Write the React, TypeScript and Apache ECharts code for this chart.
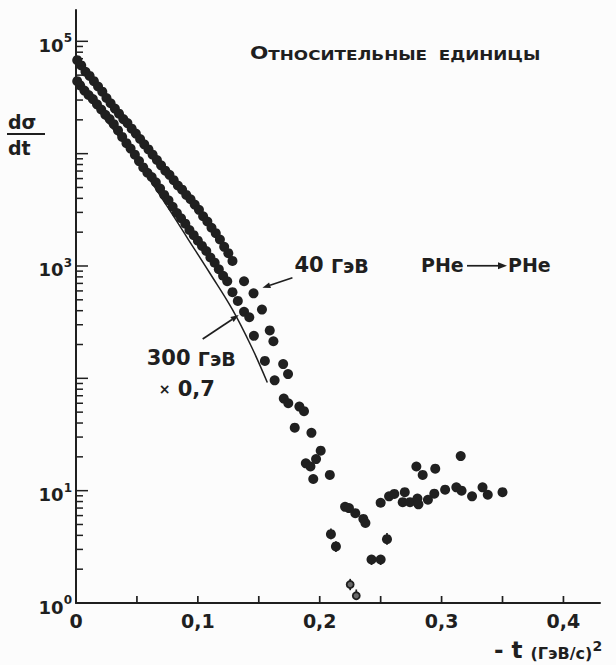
import React, { useEffect, useRef } from "react";
import * as echarts from "echarts";

const FONT = "DejaVu Sans";
const INK = "#1f1f1f";

// 40 GeV, pHe elastic: -t in (GeV/c)^2, dσ/dt in relative units
const t40 = [
  0.001, 0.0043, 0.0078, 0.0112, 0.0147, 0.0181, 0.0216, 0.025, 0.0284, 0.0319,
  0.0353, 0.0388, 0.0422, 0.0457, 0.0491, 0.0526, 0.056, 0.0595, 0.0629, 0.0664,
  0.0698, 0.0733, 0.0767, 0.0802, 0.0836, 0.0871, 0.0905, 0.094, 0.0974, 0.1009,
  0.1043, 0.1078, 0.1112, 0.1147, 0.1181, 0.1216, 0.125, 0.1284, 0.1379, 0.1457,
  0.1526, 0.159, 0.162, 0.17, 0.174, 0.1742, 0.1833, 0.1871, 0.1932, 0.2008,
  0.197, 0.2083, 0.2208, 0.224, 0.2292, 0.2358, 0.2375, 0.2425, 0.25, 0.2552,
  0.25, 0.2569, 0.2612, 0.2698, 0.2681, 0.2741, 0.2802, 0.281, 0.2888, 0.294,
  0.3029, 0.3121, 0.3164, 0.325, 0.3336, 0.3379, 0.35, 0.2793, 0.2845, 0.2948,
  0.3157,
];
const v40 = [
  67900, 61000, 53600, 49200, 44200, 39600, 35600, 31300, 28100, 25200,
  22700, 20300, 18700, 16700, 15100, 13500, 12100, 10900, 9790, 8780,
  7870, 7060, 6480, 5810, 5210, 4780, 4290, 3930, 3520, 3160,
  2770, 2490, 2190, 1960, 1720, 1480, 1300, 1110, 731, 571,
  409, 267, 214, 134, 109, 60, 56, 51, 32.7, 22.7,
  19.1, 13.8, 7.18, 7.0, 6.3, 5.6, 5.15, 2.44, 2.44, 3.7,
  7.8, 8.9, 9.36, 9.7, 7.9, 7.9, 8.5, 7.55, 8.3, 9.4,
  10.2, 10.7, 10.0, 8.9, 10.7, 9.2, 9.7, 16.4, 13.8, 15.7,
  20.3,
];

// 40 GeV points in the diffraction minimum (open markers)
const tDip = [0.225, 0.23];
const vDip = [1.46, 1.16];

// 300 GeV, scaled by 0.7
const t300 = [
  0.001, 0.0034, 0.0069, 0.0103, 0.0138, 0.0172, 0.0207, 0.0241, 0.0276, 0.031,
  0.0345, 0.0379, 0.0414, 0.0448, 0.0483, 0.0517, 0.0552, 0.0586, 0.0621, 0.0655,
  0.069, 0.0724, 0.0759, 0.0793, 0.0828, 0.0862, 0.0897, 0.0931, 0.0966, 0.1,
  0.1034, 0.1069, 0.1103, 0.1138, 0.1172, 0.1207, 0.1241, 0.1284, 0.1328, 0.1379,
  0.1422, 0.146, 0.155, 0.163, 0.1705, 0.1795, 0.1886, 0.1924, 0.1947, 0.2092,
  0.2133,
];
const v300 = [
  44200, 40500, 36400, 33300, 30600, 27500, 24700, 22200, 20300, 18300,
  16100, 14100, 12400, 11100, 9790, 8590, 7540, 6760, 6200, 5560,
  4890, 4290, 3850, 3370, 2960, 2660, 2380, 2090, 1880, 1680,
  1510, 1360, 1190, 1070, 935, 818, 731, 585, 489, 391,
  350, 239, 143, 96, 66, 36.4, 17.5, 16.4, 12.7, 4.1,
  3.19,
];

// calculated curve drawn through the 300 GeV set
const tCurve = [0, 0.0233, 0.0405, 0.0578, 0.075, 0.0922, 0.1095, 0.1284, 0.144, 0.157];
const vCurve = [42300, 20800, 11900, 6470, 3370, 1720, 875, 409, 191, 91.8];

// error bars of the low-lying points
const tErr = [0.225, 0.23, 0.2425, 0.25, 0.2552, 0.2092, 0.2133];
const errLo = [1.3, 1.07, 2.18, 2.18, 3.3, 3.7, 2.85];
const errHi = [1.64, 1.32, 2.65, 2.65, 4.2, 4.6, 3.55];

// axes
const X_TICKS = [0.05, 0.1, 0.15, 0.2, 0.25, 0.3, 0.35, 0.4];
const X_MAX = 0.43;
const Y_MIN = 1;
const Y_MAX = 190000;
const Y_LABELLED = [0, 1, 3, 5];

const zip = (a: number[], b: number[]) => a.map((x, i) => [x, b[i]]);

function yTickData() {
  const out: number[][] = [];
  for (let k = 0; k <= 5; k++) {
    const base = Math.pow(10, k);
    if (k > 0) out.push([0, base, 1]);
    if (k < 5) for (let m = 2; m <= 9; m++) out.push([0, m * base, 0]);
  }
  return out;
}

function arrow(x1: number, y1: number, x2: number, y2: number, head = 8, half = 3) {
  const dx = x2 - x1;
  const dy = y2 - y1;
  const len = Math.hypot(dx, dy);
  const ux = dx / len;
  const uy = dy / len;
  const bx = x2 - ux * head;
  const by = y2 - uy * head;
  return [
    { type: "line", silent: true, shape: { x1, y1, x2: bx, y2: by }, style: { stroke: INK, lineWidth: 1.7 } },
    {
      type: "polygon",
      silent: true,
      shape: { points: [[x2, y2], [bx - uy * half, by + ux * half], [bx + uy * half, by - ux * half]] },
      style: { fill: INK },
    },
  ];
}

const tok = (size: number, extra: any = {}) => ({
  fontSize: size,
  fontWeight: "bold",
  fontFamily: FONT,
  fill: INK,
  color: INK,
  verticalAlign: "bottom",
  ...extra,
});

function text(x: number, y: number, str: string, rich: any, extra: any = {}) {
  return {
    type: "text",
    silent: true,
    x,
    y,
    ...extra,
    style: { text: str, rich, textVerticalAlign: "middle", fill: INK },
  };
}

const dot = { color: "#202020", opacity: 1 };

export default function App() {
  const ref = useRef<HTMLDivElement>(null);

  useEffect(() => {
    document.body.style.margin = "0";
    const chart = echarts.init(ref.current!, null, { renderer: "svg" });

    const option: any = {
      animation: false,
      backgroundColor: "#fcfcfc",
      grid: { left: 76, right: 16, top: 10, bottom: 62, containLabel: false },
      xAxis: {
        type: "value",
        min: 0,
        max: X_MAX,
        interval: 0.05,
        axisLine: { lineStyle: { color: INK, width: 2 } },
        axisTick: { show: false },
        splitLine: { show: false },
        axisLabel: {
          margin: 8,
          color: INK,
          fontFamily: FONT,
          fontWeight: "bold",
          fontSize: 19,
          formatter: (v: number) => {
            const k = Math.round(v * 100);
            if (Math.abs(v * 100 - k) > 1e-6 || k % 10 !== 0) return "";
            return k === 0 ? "0" : "0," + k / 10;
          },
        },
      },
      yAxis: {
        type: "log",
        logBase: 10,
        min: Y_MIN,
        max: Y_MAX,
        axisLine: { lineStyle: { color: INK, width: 2 } },
        axisTick: { show: false },
        splitLine: { show: false },
        axisLabel: {
          margin: 4,
          color: INK,
          formatter: (v: number) => {
            const e = Math.log10(v);
            const n = Math.round(e);
            if (Math.abs(e - n) > 1e-3 || Y_LABELLED.indexOf(n) < 0) return "";
            return "{b|10}{e|" + n + "}";
          },
          rich: {
            b: { fontFamily: FONT, fontWeight: "bold", fontSize: 18, color: INK, verticalAlign: "bottom", padding: [0, 0, -4, 0] },
            e: { fontFamily: FONT, fontWeight: "bold", fontSize: 12, color: INK, verticalAlign: "bottom", padding: [0, 0, 6, 0] },
          },
        },
      },
      series: [
        {
          name: "300 ГэВ ×0,7 (расчёт)",
          type: "line",
          data: zip(tCurve, vCurve),
          smooth: 0.4,
          showSymbol: false,
          lineStyle: { color: INK, width: 1.5 },
          z: 1,
        },
        {
          name: "300 ГэВ ×0,7",
          type: "scatter",
          data: zip(t300, v300),
          symbolSize: 10,
          itemStyle: dot,
          z: 3,
        },
        {
          name: "40 ГэВ",
          type: "scatter",
          data: zip(t40, v40),
          symbolSize: 10,
          itemStyle: dot,
          z: 3,
        },
        {
          name: "40 ГэВ (минимум)",
          type: "scatter",
          data: zip(tDip, vDip),
          symbolSize: 7,
          itemStyle: { color: "#6a6a6a", borderColor: INK, borderWidth: 1.8, opacity: 1 },
          z: 4,
        },
        {
          name: "errors",
          type: "custom",
          data: tErr.map((t, i) => [t, errLo[i], errHi[i]]),
          encode: { x: 0, y: [1, 2] },
          renderItem: (_p: any, api: any) => {
            const a = api.coord([api.value(0), api.value(1)]);
            const b = api.coord([api.value(0), api.value(2)]);
            return {
              type: "line",
              shape: { x1: a[0], y1: a[1], x2: b[0], y2: b[1] },
              style: { stroke: INK, lineWidth: 1.7 },
            };
          },
          z: 2,
        },
        {
          name: "x ticks",
          type: "custom",
          data: X_TICKS.map((t) => [t, Y_MIN]),
          encode: { x: 0, y: 1 },
          silent: true,
          renderItem: (_p: any, api: any) => {
            const p = api.coord([api.value(0), api.value(1)]);
            return {
              type: "line",
              shape: { x1: p[0], y1: p[1], x2: p[0], y2: p[1] - 7 },
              style: { stroke: INK, lineWidth: 1.7 },
            };
          },
          z: 5,
        },
        {
          name: "y ticks",
          type: "custom",
          data: yTickData(),
          encode: { x: 0, y: 1 },
          silent: true,
          renderItem: (_p: any, api: any) => {
            const p = api.coord([api.value(0), api.value(1)]);
            const len = api.value(2) ? 12 : 7;
            return {
              type: "line",
              shape: { x1: p[0], y1: p[1], x2: p[0] + len, y2: p[1] },
              style: { stroke: INK, lineWidth: 1.5 },
            };
          },
          z: 5,
        },
      ],
    };

    chart.setOption(option);

    const px = (p: number[]) => chart.convertToPixel({ gridIndex: 0 }, p) as number[];
    const tip40 = px([0.153, 640]);
    const tip300 = px([0.1335, 366]);
    const rowY = tip40[1] - 23;

    const elements: any[] = [
      text(250, 53, "{b|О}{s|ТНОСИТЕЛЬНЫЕ  ЕДИНИЦЫ}", { b: tok(18), s: tok(14) }, { scaleX: 1.2 }),
      text(8, 122, "{a|dσ}", { a: tok(19) }),
      { type: "line", silent: true, shape: { x1: 7, y1: 134, x2: 45, y2: 134 }, style: { stroke: INK, lineWidth: 2 } },
      text(8, 148, "{a|dt}", { a: tok(19) }),
      text(tip40[0] + 32, rowY, "{n|40 }{u|ГэВ}", { n: tok(21), u: tok(19) }),
      ...arrow(tip40[0] + 30, tip40[1] - 10, tip40[0], tip40[1]),
      text(421, rowY, "{a|PHe}", { a: tok(19) }),
      ...arrow(467, rowY + 1, 507, rowY + 1, 9, 3.5),
      text(508, rowY, "{a|PHe}", { a: tok(19) }),
      text(tip300[0] - 92, tip300[1] + 43, "{n|300 }{u|ГэВ}", { n: tok(21), u: tok(19) }),
      text(tip300[0] - 80, tip300[1] + 74, "{m|×}{n| 0,7}", {
        m: tok(14, { verticalAlign: "middle" }),
        n: tok(21, { verticalAlign: "middle" }),
      }),
      ...arrow(tip300[0] - 36, tip300[1] + 24, tip300[0], tip300[1]),
      text(494, 650, "{a|- t }{b|(ГэВ/с)}{s|2}", {
        a: tok(23),
        b: tok(16),
        s: tok(14, { padding: [0, 0, 9, 0] }),
      }),
    ];

    chart.setOption({ graphic: { elements } });

    return () => chart.dispose();
  }, []);

  return <div ref={ref} style={{ width: 616, height: 665 }} />;
}
